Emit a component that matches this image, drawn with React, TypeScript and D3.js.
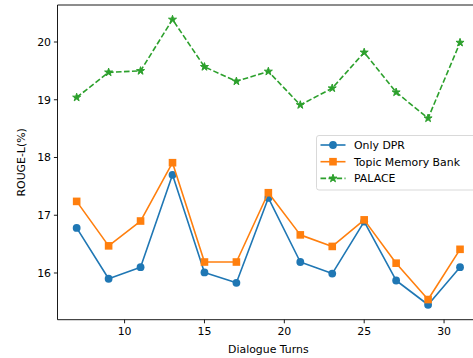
import React from 'react';
import * as d3 from 'd3';

// Dialogue turn counts on x
const turns = [7, 9, 11, 13, 15, 17, 19, 21, 23, 25, 27, 29, 31];

// ROUGE-L (%) per method
const onlyDpr = [16.78, 15.9, 16.1, 17.7, 16.01, 15.83, 17.3, 16.19, 15.99, 16.89, 15.87, 15.45, 16.1];
const topicMemoryBank = [17.24, 16.47, 16.9, 17.91, 16.19, 16.19, 17.39, 16.66, 16.46, 16.92, 16.17, 15.54, 16.41];
const palace = [19.04, 19.475, 19.5, 20.39, 19.57, 19.32, 19.49, 18.91, 19.2, 19.82, 19.13, 18.68, 19.99];

const xTicks = [10, 15, 20, 25, 30];
const yTicks = [16, 17, 18, 19, 20];

const series = [
  { name: 'Only DPR', values: onlyDpr, color: '#1f77b4', marker: 'circle', dashed: false },
  { name: 'Topic Memory Bank', values: topicMemoryBank, color: '#ff7f0e', marker: 'square', dashed: false },
  { name: 'PALACE', values: palace, color: '#2ca02c', marker: 'star', dashed: true },
];

const W = 473;
const H = 358;
const left = 57.5;
const right = 479.2;
const top = 5;
const bottom = 319.7;
const font = 'DejaVu Sans, sans-serif';
const fs = 10.9;

const Marker = ({ type, x, y, color }: { type: string; x: number; y: number; color: string }) => {
  if (type === 'circle') return <circle cx={x} cy={y} r={3.9} fill={color} />;
  if (type === 'square') return <rect x={x - 3.8} y={y - 3.8} width={7.6} height={7.6} fill={color} />;
  const star = d3.symbol().type(d3.symbolStar).size(20)();
  return <path d={star || ''} transform={`translate(${x},${y})`} fill={color} stroke={color} strokeWidth={1} />;
};

const App = () => {
  const x = d3.scaleLinear().domain([5.8, 32.2]).range([left, right]);
  const y = d3.scaleLinear().domain([15.191, 20.641]).range([bottom, top]);

  const line = d3.line<number>()
    .x((_, i) => x(turns[i]))
    .y(d => y(d));

  const legX = 316.5;
  const legY = 135.5;

  return (
    <svg width={W} height={H} style={{ position: 'absolute', left: 0, top: 0 }} fontFamily={font}>
      <rect width={W} height={H} fill="#fff" />

      {series.map(s => (
        <g key={s.name}>
          <path d={line(s.values) || ''} fill="none" stroke={s.color} strokeWidth={1.6}
            strokeDasharray={s.dashed ? '5.6,2.4' : undefined} strokeLinejoin="round" />
          {s.values.map((v, i) => (
            <Marker key={i} type={s.marker} x={x(turns[i])} y={y(v)} color={s.color} />
          ))}
        </g>
      ))}

      {/* spines */}
      <path d={`M${left},${top}V${bottom}H${W + 10}`} stroke="#000" strokeWidth={0.9} fill="none" />
      <path d={`M${left},${top}H${W + 10}`} stroke="#000" strokeWidth={0.9} fill="none" />

      {/* x axis */}
      {xTicks.map(t => (
        <g key={t} transform={`translate(${x(t)},${bottom})`}>
          <line y2={3.6} stroke="#000" strokeWidth={0.9} />
          <text y={15.5} textAnchor="middle" fontSize={fs} fill="#000">{t}</text>
        </g>
      ))}
      <text x={(left + right) / 2} y={352.5} textAnchor="middle" fontSize={fs} fill="#000">Dialogue Turns</text>

      {/* y axis */}
      {yTicks.map(t => (
        <g key={t} transform={`translate(${left},${y(t)})`}>
          <line x2={-3.6} stroke="#000" strokeWidth={0.9} />
          <text x={-6.5} dy="0.36em" textAnchor="end" fontSize={fs} fill="#000">{t}</text>
        </g>
      ))}
      <text transform={`translate(25,${(top + bottom) / 2}) rotate(-90)`} textAnchor="middle"
        fontSize={fs} fill="#000">ROUGE-L(%)</text>

      {/* legend */}
      <rect x={legX} y={legY} width={170} height={54.5} rx={2.5} fill="#fff" fillOpacity={0.8}
        stroke="#d5d5d5" strokeWidth={0.9} />
      {series.map((s, i) => {
        const ly = 145 + i * 16.7;
        return (
          <g key={s.name}>
            <line x1={320.5} x2={345.5} y1={ly} y2={ly} stroke={s.color} strokeWidth={1.6}
              strokeDasharray={s.dashed ? '5.6,2.4' : undefined} />
            <Marker type={s.marker} x={333} y={ly} color={s.color} />
            <text x={354} y={ly} dy="0.36em" fontSize={fs} fill="#000">{s.name}</text>
          </g>
        );
      })}
    </svg>
  );
};

export default App;
